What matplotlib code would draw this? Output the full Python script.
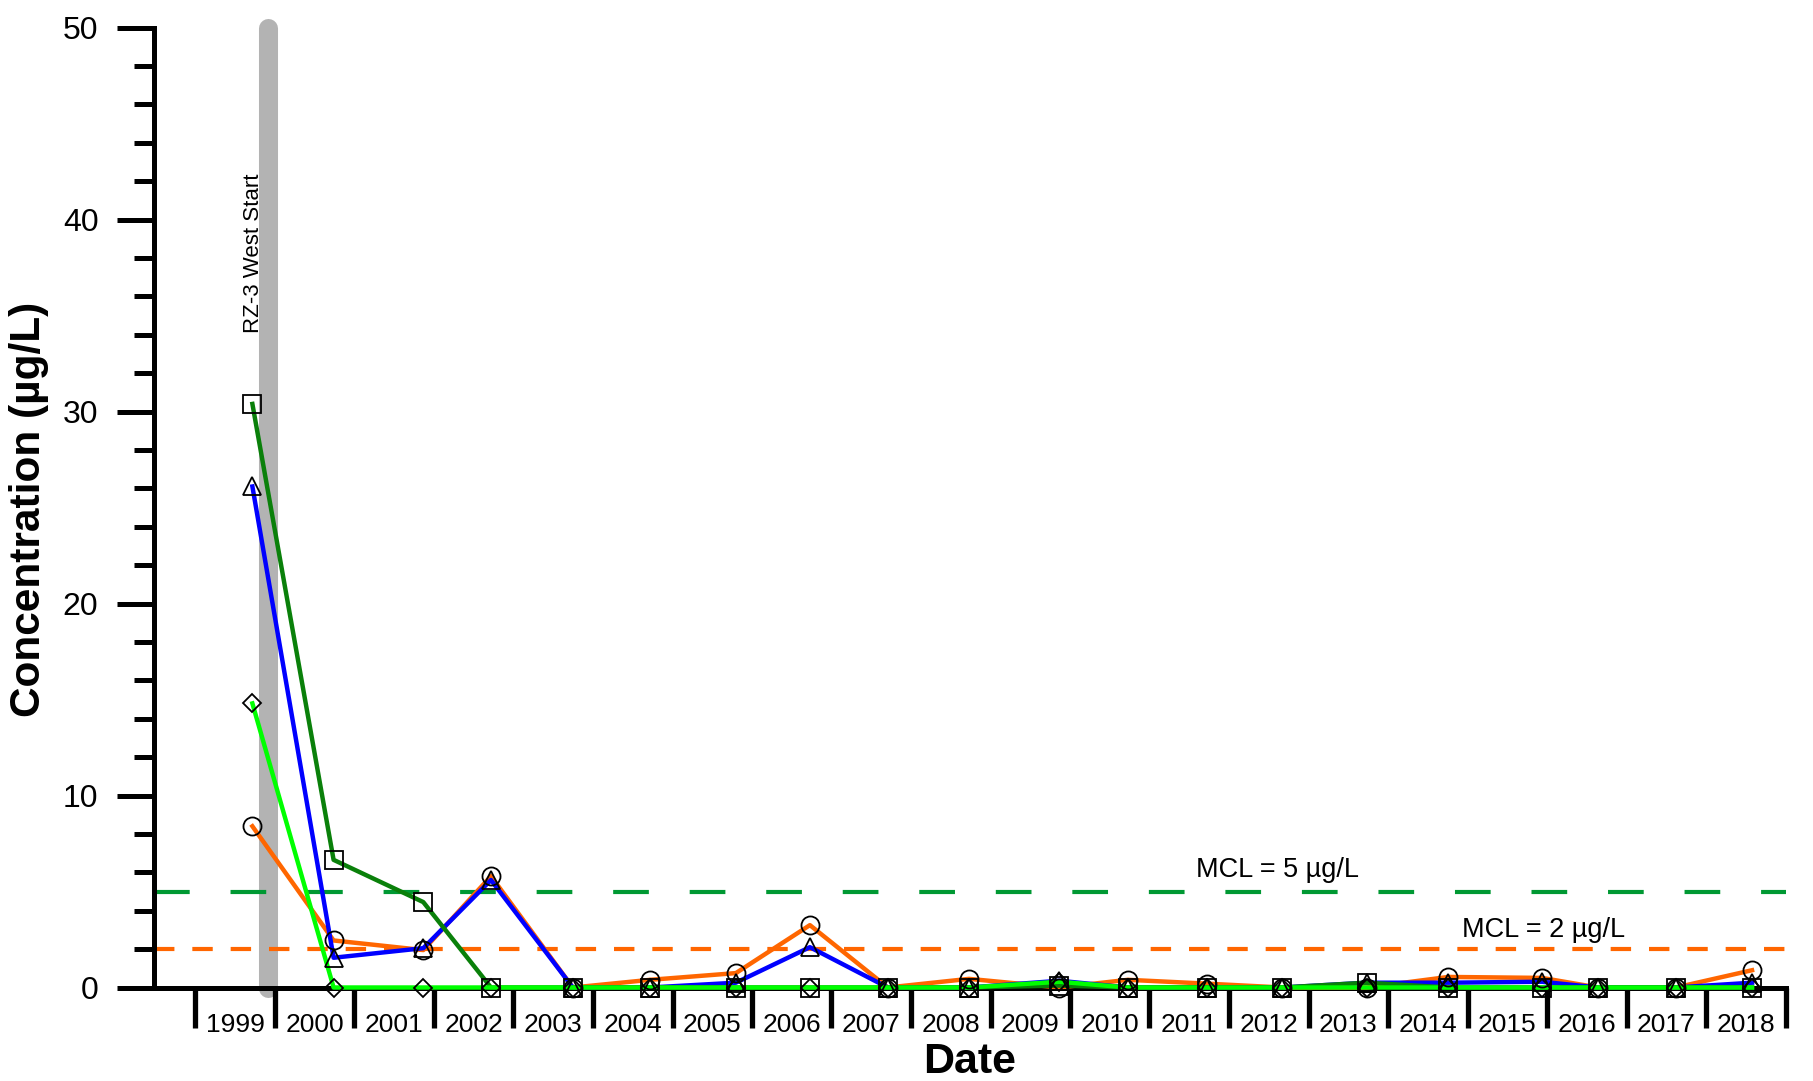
import matplotlib

matplotlib.use("Agg")
import matplotlib.dates as mdates
import matplotlib.pyplot as plt
import pandas as pd
from matplotlib.ticker import MultipleLocator, NullFormatter

plt.rcParams["font.family"] = ["Liberation Sans", "DejaVu Sans"]
plt.rcParams["lines.scale_dashes"] = False

# sample dates and concentrations (ug/L)
dates = [
    "1999-09-20", "2000-09-27", "2001-11-13", "2002-09-20", "2003-10-01",
    "2004-09-20", "2005-10-19", "2006-09-24", "2007-09-17", "2008-09-24",
    "2009-11-13", "2010-09-24", "2011-09-24", "2012-09-02", "2013-09-24",
    "2014-10-05", "2015-12-09", "2016-08-22", "2017-08-15", "2018-07-31",
]
circle_vals = [8.4, 2.45, 1.95, 5.8, 0, 0.4, 0.75, 3.25, 0, 0.45,
               0, 0.4, 0.2, 0, 0, 0.55, 0.5, 0, 0, 0.9]
triangle_vals = [26.1, 1.55, 2.05, 5.6, 0, 0, 0.25, 2.1, 0, 0,
                 0.35, 0, 0, 0, 0.25, 0.25, 0.3, 0, 0, 0.25]
square_vals = [30.4, 6.65, 4.45, 0, 0, 0, 0, 0, 0, 0,
               0.1, 0, 0, 0, 0.25, 0, 0, 0, 0, 0]
diamond_vals = [14.8, 0, 0, 0, 0, 0, 0, 0, 0, 0,
                0.3, 0, 0, 0, 0, 0, 0, 0, 0, 0]

years = list(range(1999, 2019))
mcl_5 = 5.0
mcl_2 = 2.0
start_date = "1999-12-01"
start_label = "RZ-3 West Start"

x = pd.to_datetime(dates)

SERIES = [
    (circle_vals, "#ff6600", "o", 13),
    (triangle_vals, "#0000ff", "^", 13),
    (square_vals, "#0a800a", "s", 13),
    (diamond_vals, "#00ff00", "D", 9.5),
]

fig = plt.figure(figsize=(18.13, 10.81), dpi=100)
ax = fig.add_axes([154 / 1813, 1 - 987.5 / 1081, (1786 - 154) / 1813, (987.5 - 27.7) / 1081])

# treatment start bar
t0 = pd.Timestamp(start_date)
ax.plot([t0, t0], [0, 50], color="#b3b3b3", lw=13.7, solid_capstyle="round",
        clip_on=False, zorder=1)
ax.text(pd.Timestamp("1999-09-27"), 34.1, start_label, rotation=90,
        ha="center", va="bottom", fontsize=16)

# MCL reference lines
ax.axhline(mcl_5, color="#009933", lw=3.0, dashes=(25.7, 29.4), zorder=2)
ax.axhline(mcl_2, color="#ff6600", lw=3.0, dashes=(14.7, 12.9), zorder=2)
ax.text(pd.Timestamp("2012-08-10"), 6.1, "MCL = 5 µg/L", ha="center", va="center", fontsize=19.5)
ax.text(pd.Timestamp("2015-12-15"), 3.0, "MCL = 2 µg/L", ha="center", va="center", fontsize=19.5)

for i, (vals, color, marker, ms) in enumerate(SERIES):
    ax.plot(x, vals, color=color, lw=3.2, zorder=3 + i, clip_on=False)
for vals, color, marker, ms in SERIES:
    ax.plot(x, vals, ls="none", marker=marker, ms=ms, mfc="none", mec="black",
            mew=1.3, zorder=10, clip_on=False)

ax.set_ylim(0, 50)
ax.set_xlim(pd.Timestamp("1998-06-25"), pd.Timestamp("2019-01-03"))

for side in ("top", "right"):
    ax.spines[side].set_visible(False)
for side in ("left", "bottom"):
    ax.spines[side].set_linewidth(3.6)

ax.yaxis.set_major_locator(MultipleLocator(10))
ax.yaxis.set_minor_locator(MultipleLocator(2))
ax.tick_params(axis="y", which="major", length=27, width=3.6, labelsize=23, pad=13)
ax.tick_params(axis="y", which="minor", length=14.4, width=3.6)

# year boundaries get long ticks, labels sit mid-year between them
ax.xaxis.set_major_locator(mdates.YearLocator(1))
ax.xaxis.set_major_formatter(NullFormatter())
ax.set_xticks(pd.to_datetime([f"{y}-07-02" for y in years]), minor=True)
ax.set_xticklabels([str(y) for y in years], minor=True)
ax.tick_params(axis="x", which="major", length=29, width=3.8)
ax.tick_params(axis="x", which="minor", length=0, labelsize=19, pad=18)

fig.text(29 / 1813, 1 - 509 / 1081, "Concentration (µg/L)", rotation=90,
         ha="center", va="center", fontsize=30.5, fontweight="bold")
fig.text(970 / 1813, 1 - 1062 / 1081, "Date", ha="center", va="center",
         fontsize=31, fontweight="bold")

fig.savefig("out.png", dpi=100)
